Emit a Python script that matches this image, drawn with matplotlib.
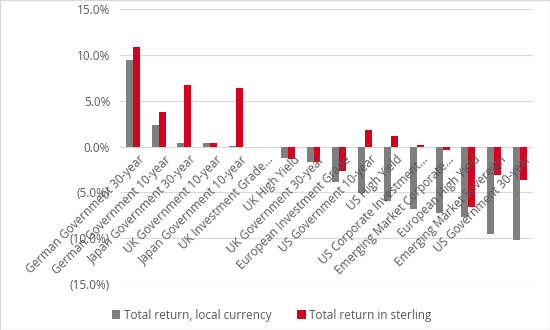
import numpy as np
import matplotlib.pyplot as plt
from matplotlib.ticker import FuncFormatter

categories = [
    'German Government 30-year', 'German Government 10-year',
    'Japan Government 30-year', 'UK Government 10-year',
    'Japan Government 10-year', 'UK Investment Grade...',
    'UK High Yield', 'UK Government 30-year',
    'European Investment Grade', 'US Government 10-year',
    'US High Yield', 'US Corporate Investment...',
    'Emerging Market Corporate...', 'European High Yield',
    'Emerging Market Sovereign', 'US Government 30-year',
]
local_ccy = [9.4, 2.4, 0.35, 0.4, 0.1, 0.0, -1.3, -1.7,
             -3.9, -5.1, -5.9, -6.8, -7.3, -7.7, -9.5, -10.2]
sterling = [10.8, 3.8, 6.7, 0.4, 6.4, 0.0, -1.4, -1.7,
            -2.7, 1.8, 1.1, 0.15, -0.4, -6.6, -3.1, -3.6]
yticks = [15, 10, 5, 0, -5, -10, -15]

plt.rcParams['font.family'] = ['Open Sans', 'DejaVu Sans']
txt = '#595959'
grey = '#7f7f7f'
red = '#d7001e'

fig = plt.figure(figsize=(5.5, 3.3), dpi=100)
ax = fig.add_axes([0.218, 0.139, 0.751, 0.834])

x = np.arange(len(categories))
w = 0.27
ax.bar(x - w / 2, local_ccy, w, color=grey, label='Total return, local currency', zorder=3)
ax.bar(x + w / 2, sterling, w, color=red, label='Total return in sterling', zorder=3)

ax.set_xlim(-0.5, len(categories) - 0.5)
ax.set_ylim(-15, 15)
ax.set_yticks(yticks)
ax.yaxis.set_major_formatter(FuncFormatter(
    lambda v, p: f'{v:.1f}%' if v >= 0 else f'({-v:.1f}%)'))
ax.tick_params(axis='y', length=0, pad=7, labelsize=8.5, labelcolor=txt)
ax.set_xticks([])
ax.grid(axis='y', color='#d9d9d9', linewidth=0.8, zorder=0)
ax.axhline(0, color='#d9d9d9', linewidth=0.8, zorder=2)
for s in ax.spines.values():
    s.set_visible(False)

# category names hang off the zero line
for i, name in enumerate(categories):
    ax.text(i + 0.2, -0.7, name, rotation=45, rotation_mode='anchor',
            ha='right', va='top', fontsize=8.5, color=txt, zorder=4)

ax.legend(loc='lower center', bbox_to_anchor=(0.368, -0.175), ncol=2,
          frameon=False, fontsize=8.5, labelcolor=txt, handlelength=0.7,
          handleheight=0.7, handletextpad=0.3, columnspacing=2.2)

fig.patches.append(plt.Rectangle((0, 0), 1, 1, transform=fig.transFigure,
                                 fill=False, edgecolor='#d9d9d9', linewidth=1))
fig.savefig('out.png', dpi=100)
